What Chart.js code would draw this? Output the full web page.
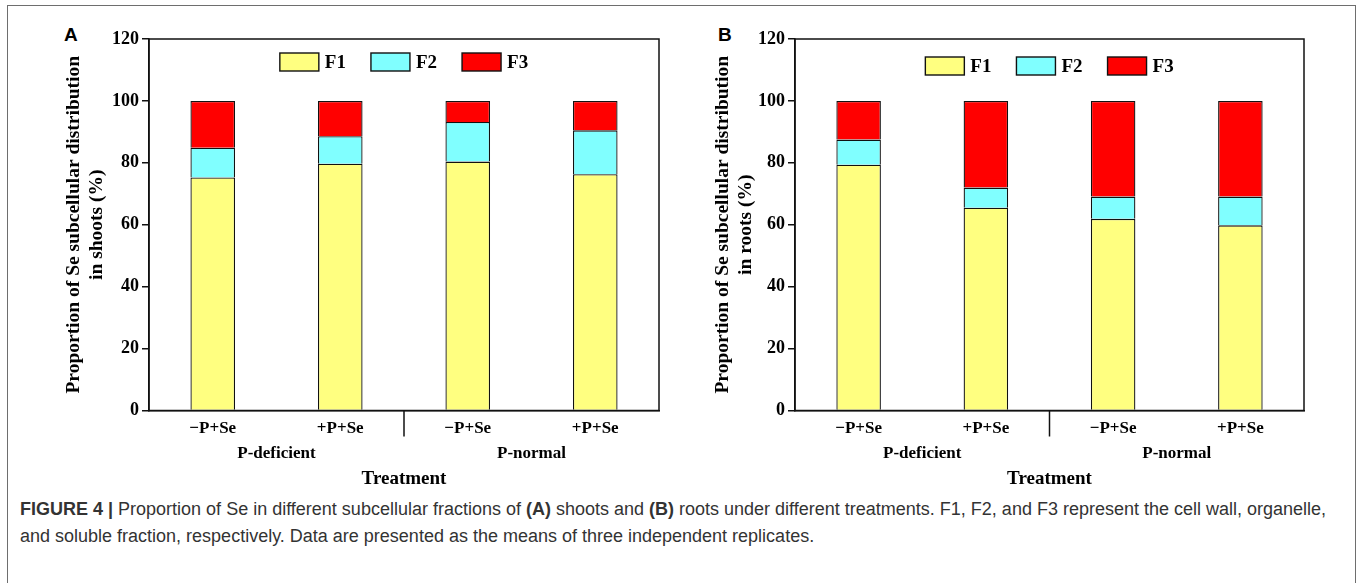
<!DOCTYPE html>
<html>
<head>
<meta charset="utf-8">
<script src="https://cdn.jsdelivr.net/npm/chart.js"></script>
<style>
  body { margin: 0; background: #fff; width: 1358px; height: 583px; overflow: hidden; position: relative; font-family: "Liberation Sans", Arial, sans-serif; }
  #frame { position: absolute; left: 7px; top: 5px; width: 1347px; height: 640px; border: 1.5px solid #6e6e6e; }
  canvas { position: absolute; top: 0; }
  #chartA { left: 50px; }
  #chartB { left: 700px; }
  .tag { position: absolute; top: 24px; font: bold 19px "Liberation Sans", Arial, sans-serif; color: #000; }
  #caption { position: absolute; left: 20px; top: 496px; font-size: 18px; line-height: 27px; color: #333; white-space: nowrap; }
</style>
</head>
<body>
<div id="frame"></div>
<div class="tag" style="left:64px">A</div>
<div class="tag" style="left:718px">B</div>
<canvas id="chartA" width="629" height="495"></canvas>
<canvas id="chartB" width="658" height="495"></canvas>
<div id="caption"><b>FIGURE 4 |</b> Proportion of Se in different subcellular fractions of <b>(A)</b> shoots and <b>(B)</b> roots under different treatments. F1, F2, and F3 represent the cell wall, organelle,<br>and soluble fraction, respectively. Data are presented as the means of three independent replicates.</div>

<script>
const treatments = ['\u2212P+Se', '+P+Se', '\u2212P+Se', '+P+Se']
const groups = ['P-deficient', 'P-normal']
const fractions = ['F1', 'F2', 'F3']
const fractionColors = ['#ffff80', '#80ffff', '#ff0000']

// percentages per treatment, shoots
const shootF1 = [75.3, 79.7, 80.4, 76.3]
const shootF2 = [9.6, 8.9, 12.8, 14.2]
const shootF3 = [15.1, 11.4, 6.8, 9.5]

// percentages per treatment, roots
const rootF1 = [79.4, 65.5, 61.9, 59.8]
const rootF2 = [8.1, 6.5, 7.2, 9.3]
const rootF3 = [12.5, 28.0, 30.9, 30.9]

const yMin = 0
const yMax = 120
const yStep = 20

const serif = '"Liberation Serif", "Times New Roman", serif'

// box around the plot, group divider under the axis, legend inside the plot
const framePlugin = {
  id: 'frameAndLegend',
  afterDraw(chart, args, opts) {
    const ctx = chart.ctx
    const area = chart.chartArea
    const x = chart.scales.x
    ctx.save()
    ctx.strokeStyle = '#111'
    ctx.lineWidth = 1.5
    ctx.strokeRect(area.left, area.top, area.right - area.left, area.bottom - area.top)

    let mid = (x.getPixelForValue(1) + x.getPixelForValue(2)) / 2
    ctx.beginPath()
    ctx.moveTo(mid, area.bottom)
    ctx.lineTo(mid, area.bottom + 26)
    ctx.stroke()

    // legend
    ctx.font = 'bold 19px ' + serif
    ctx.textBaseline = 'middle'
    let boxW = 39, boxH = 18, textGap = 6, itemGap = 25
    let items = chart.data.datasets.map(ds => ({ ds, w: boxW + textGap + ctx.measureText(ds.label).width }))
    let total = items.reduce((s, it) => s + it.w, 0) + itemGap * (items.length - 1)
    let lx = (area.left + area.right) / 2 - total / 2
    let ly = area.top + opts.legendTop
    items.forEach(it => {
      ctx.fillStyle = it.ds.backgroundColor
      ctx.fillRect(lx, ly, boxW, boxH)
      ctx.lineWidth = 1.4
      ctx.strokeStyle = '#111'
      ctx.strokeRect(lx, ly, boxW, boxH)
      ctx.fillStyle = '#000'
      ctx.fillText(it.ds.label, lx + boxW + textGap, ly + boxH / 2 + 1)
      lx += it.w + itemGap
    })
    ctx.restore()
  }
}

function makeChart(id, series, yTitle, axisWidth, titlePad, rightPad, legendTop) {
  let ctx = document.getElementById(id).getContext('2d')
  return new Chart(ctx, {
    type: 'bar',
    data: {
      labels: treatments,
      datasets: fractions.map((name, i) => ({
        label: name,
        data: series[i],
        backgroundColor: fractionColors[i],
        borderColor: '#111',
        borderWidth: 1.3,
        barPercentage: 0.35,
        categoryPercentage: 1
      }))
    },
    options: {
      responsive: false,
      animation: false,
      layout: { padding: { top: 39, right: rightPad, left: 0, bottom: 0 } },
      plugins: {
        legend: { display: false },
        tooltip: { enabled: false },
        frameAndLegend: { legendTop: legendTop }
      },
      scales: {
        x: {
          stacked: true,
          weight: 0,
          grid: { display: false },
          border: { color: '#111', width: 1.5 },
          ticks: { color: '#000', font: { family: serif, size: 17, weight: 'bold' }, padding: 0 },
          afterFit: s => { s.height = 25 }
        },
        x2: {
          type: 'category',
          position: 'bottom',
          weight: 1,
          labels: groups,
          offset: true,
          grid: { display: false },
          border: { display: false },
          ticks: { color: '#000', font: { family: serif, size: 17, weight: 'bold' }, padding: 0 },
          title: {
            display: true,
            text: 'Treatment',
            color: '#000',
            font: { family: serif, size: 19, weight: 'bold' },
            padding: { top: 4, bottom: 5 }
          },
          afterFit: s => { s.height = 59.5 }
        },
        y: {
          stacked: true,
          min: yMin,
          max: yMax,
          border: { color: '#111', width: 1.5 },
          grid: { drawOnChartArea: false, drawTicks: true, tickLength: 7, color: '#111', lineWidth: 1.5 },
          ticks: { stepSize: yStep, color: '#000', font: { family: serif, size: 18, weight: 'bold' }, padding: 3 },
          title: {
            display: true,
            text: yTitle,
            color: '#000',
            font: { family: serif, size: 19.5, weight: 'bold', lineHeight: 1.2 },
            padding: { top: titlePad, bottom: 0 }
          },
          afterFit: s => { s.width = axisWidth }
        }
      }
    },
    plugins: [framePlugin]
  })
}

makeChart('chartA', [shootF1, shootF2, shootF3],
  ['Proportion of Se subcellular distribution', 'in shoots (%)'], 99, 12, 20, 14)
makeChart('chartB', [rootF1, rootF2, rootF3],
  ['Proportion of Se subcellular distribution', 'in roots (%)'], 95, 11, 54, 18)
</script>
</body>
</html>
